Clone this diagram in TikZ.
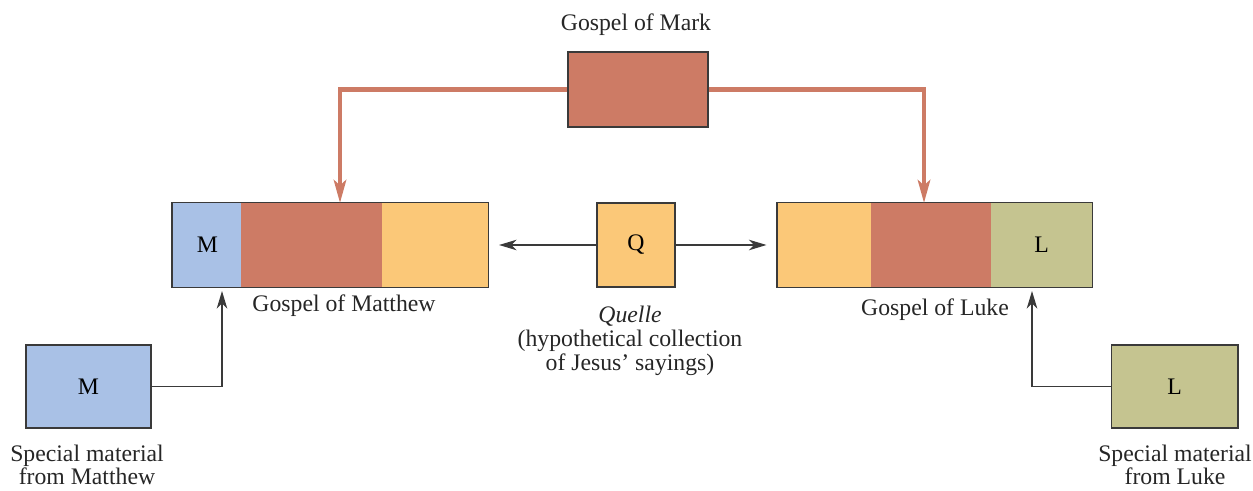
\documentclass[tikz,border=0pt]{standalone}
\usepackage{fontspec}
\setmainfont{Liberation Serif}
\usetikzlibrary{positioning,fit,arrows.meta}

\definecolor{markred}{HTML}{CD7B65}
\definecolor{mblue}{HTML}{A9C1E6}
\definecolor{qyellow}{HTML}{FBC878}
\definecolor{lgreen}{HTML}{C5C490}
\definecolor{edge}{HTML}{3A3A3A}

\begin{document}
\begin{tikzpicture}[
        x=0.02cm, y=0.02cm,
        font=\fontsize{13.5}{13.5}\selectfont,
        % Styles
        seg/.style={rectangle, inner sep=0pt, minimum height=1.68cm},
        frame/.style={rectangle, draw=edge, line width=0.6pt, inner sep=0pt},
        box/.style={rectangle, draw=edge, line width=0.6pt, inner sep=0pt},
        label/.style={align=center, text=black!85},
        markarrow/.style={draw=markred, line width=2.8pt, -{Stealth[length=13pt, width=7pt, inset=3pt]}},
        thinarrow/.style={draw=edge, line width=0.7pt, -{Stealth[length=10pt, width=6pt, inset=3pt]}}
    ]
    \useasboundingbox (0,0) rectangle (1253,490);

    % ================= MARK =================
    \node[box, fill=markred, minimum width=2.8cm, minimum height=1.5cm] (mark) at (638, 400.5) {};
    \node[label] (marklbl) at (636, 465) {Gospel of Mark};

    % ================= MATTHEW =================
    % segments overlap a little so no white seam shows
    \node[seg, fill=mblue, minimum width=1.4cm, anchor=west] (mattM) at (172, 245) {M};
    \node[seg, fill=markred, minimum width=2.84cm, right=-1pt of mattM] (mattR) {};
    \node[seg, fill=qyellow, minimum width=2.12cm, right=-1pt of mattR] (mattY) {};
    \node[frame, fit=(mattM)(mattY)] (matthew) {};
    \node[label] (mattlbl) at (344, 184) {Gospel of Matthew};

    % ================= LUKE =================
    \node[seg, fill=qyellow, minimum width=1.9cm, anchor=west] (lukeY) at (777, 245) {};
    \node[seg, fill=markred, minimum width=2.42cm, right=-1pt of lukeY] (lukeR) {};
    \node[seg, fill=lgreen, minimum width=2.02cm, right=-1pt of lukeR] (lukeL) {L};
    \node[frame, fit=(lukeY)(lukeL)] (luke) {};
    \node[label] (lukelbl) at (935, 180) {Gospel of Luke};

    % ================= QUELLE =================
    \node[box, fill=qyellow, minimum width=1.56cm, minimum height=1.68cm] (quelle) at (636, 245) {Q};
    \node[label] (quellelbl) at (630, 149) {\textit{Quelle}\\(hypothetical collection\\of Jesus’ sayings)};

    % ================= SPECIAL MATERIAL =================
    \node[box, fill=mblue, minimum width=2.5cm, minimum height=1.66cm] (specM) at (88.5, 103.5) {M};
    \node[label] (specMlbl) at (87, 25) {Special material\\from Matthew};
    \node[box, fill=lgreen, minimum width=2.54cm, minimum height=1.66cm] (specL) at (1174.5, 103.5) {L};
    \node[label] (specLlbl) at (1175, 25) {Special material\\from Luke};

    % ================= CONNECTORS =================
    % entry points on the gospel boxes
    \coordinate (mattTop) at (340, 287);
    \coordinate (lukeTop) at (924, 287);
    \coordinate (mattBot) at (222, 199);
    \coordinate (lukeBot) at (1032, 199);

    \draw[markarrow] (mark.west) -| (mattTop);
    \draw[markarrow] (mark.east) -| (lukeTop);

    \draw[thinarrow, shorten >=0.2cm] (quelle.west) -- (matthew.east);
    \draw[thinarrow, shorten >=0.2cm] (quelle.east) -- (luke.west);

    \draw[thinarrow] (specM.east) -| (mattBot);
    \draw[thinarrow] (specL.west) -| (lukeBot);

\end{tikzpicture}
\end{document}
